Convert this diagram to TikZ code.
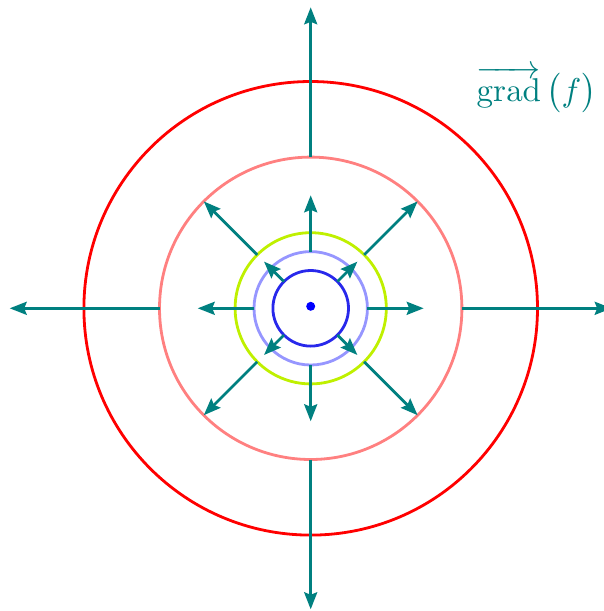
\documentclass[tikz,border=0pt]{standalone}
\usepackage{amsmath}
\usetikzlibrary{arrows.meta}
\definecolor{tealc}{RGB}{0,128,128}
\definecolor{salmonc}{RGB}{255,128,128}
\definecolor{limec}{RGB}{191,240,0}
\definecolor{lightbluec}{RGB}{150,150,255}
\definecolor{darkbluec}{RGB}{40,40,235}
\tikzset{
  field/.style={draw=tealc, line width=2.8pt, -{Stealth[length=17pt,width=13pt,inset=2.5pt]}},
  ring/.style={line width=2.8pt},
}
\begin{document}
\begin{tikzpicture}[x=1pt,y=-1pt]
\useasboundingbox (0,0) rectangle (603,611);
\coordinate (C) at (310.7,308.3);
\begin{scope}[shift={(C)}]
  % circles
  \draw[ring, red] (0,0) circle[radius=226.8];
  \draw[ring, salmonc] (0,0) circle[radius=151.2];
  \draw[ring, limec] (0,0) circle[radius=75.6];
  \draw[ring, lightbluec] (0,0) circle[radius=56.7];
  \draw[ring, darkbluec] (0,0) circle[radius=37.8];
  % arrows along axes
  \foreach \a in {0,90,180,270}{
    \draw[field] (\a:151.2) -- (\a:301);
    \draw[field] (\a:56.7) -- (\a:113);
  }
  % diagonal arrows
  \foreach \a in {45,135,225,315}{
    \draw[field] (\a:75.6) -- (\a:151.2);
    \draw[field] (\a:37.8) -- (\a:66);
  }
  \fill[blue] (0,-2) circle[radius=4.5];
\end{scope}
\node[anchor=base west, inner sep=0pt, text=tealc, scale=3.3, transform shape] (lab) at (476,101)
  {$\overrightarrow{\mathrm{grad}}\,\bigl(f\bigr)$};
\end{tikzpicture}
\end{document}
